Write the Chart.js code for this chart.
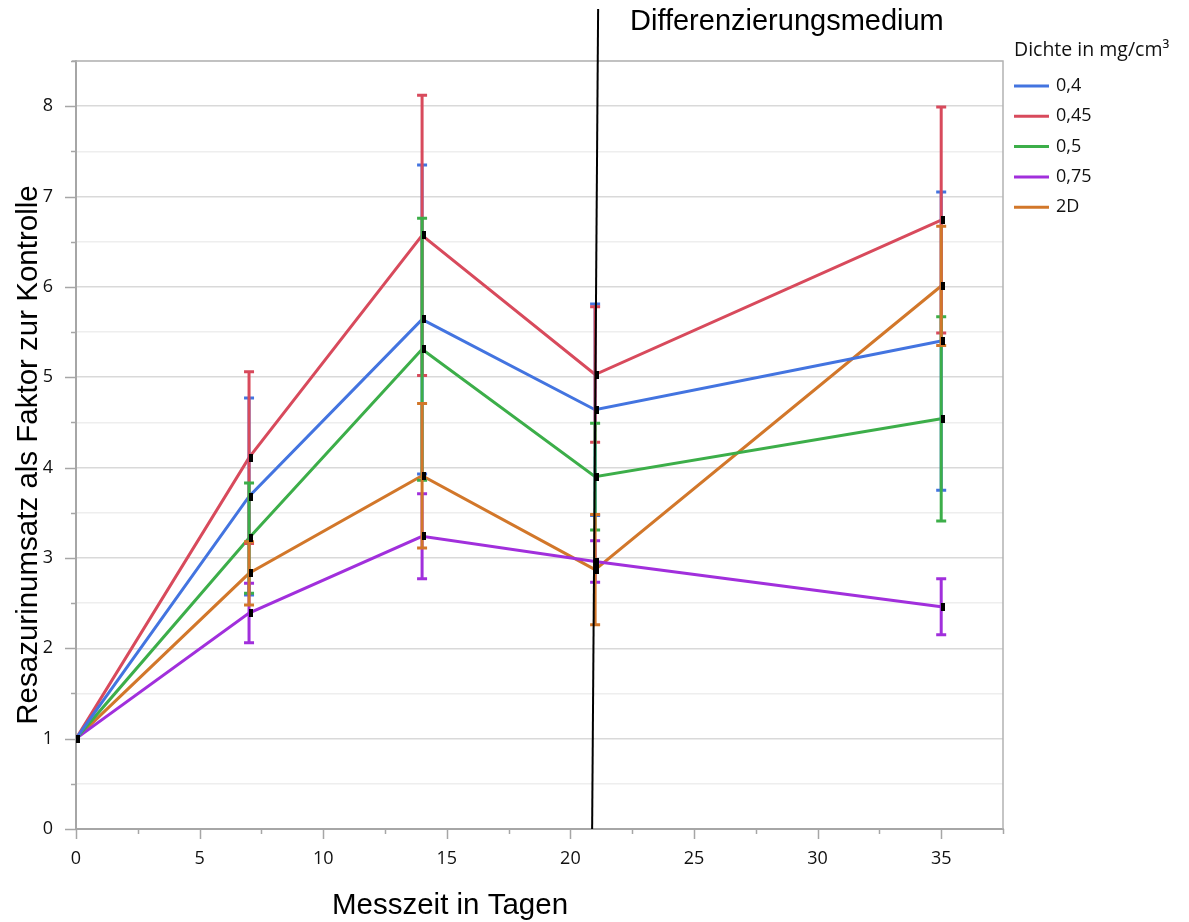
<!DOCTYPE html>
<html>
<head>
<meta charset="utf-8">
<script src="https://cdn.jsdelivr.net/npm/chart.js@4.4.1/dist/chart.umd.min.js"></script>
<style>
  html, body { margin: 0; padding: 0; background: #fff; }
  #wrap { width: 1189px; height: 922px; position: relative; }
</style>
</head>
<body>
<div id="wrap"><canvas id="resazurin-chart"></canvas></div>
<script>
// measurement days
const days = [0, 7, 14, 21, 35];

// density labels for the legend
const densities = ['0,4', '0,45', '0,5', '0,75', '2D'];

// mean resazurin turnover relative to control, one list per density
const val04  = [1, 3.68, 5.64, 4.64, 5.40];
const val045 = [1, 4.11, 6.57, 5.03, 6.74];
const val05  = [1, 3.22, 5.31, 3.90, 4.54];
const val075 = [1, 2.39, 3.24, 2.96, 2.46];
const val2D  = [1, 2.83, 3.91, 2.87, 6.01];

// standard deviations (symmetric error bars)
const err04  = [0, 1.09, 1.71, 1.17, 1.65];
const err045 = [0, 0.95, 1.55, 0.75, 1.25];
const err05  = [0, 0.61, 1.45, 0.59, 1.13];
const err075 = [0, 0.33, 0.47, 0.23, 0.31];
const err2D  = [0, 0.35, 0.80, 0.61, 0.66];

const lineColors = ['#4374e0', '#d84a5c', '#3cae49', '#a12fdc', '#d2772a'];

const axisGray = '#a6a6a6';
const tickFont = '"Open Sans", "Noto Sans", sans-serif';
const titleFont = '"Liberation Sans", Arial, sans-serif';

const allValues = [val04, val045, val05, val075, val2D];
const allErrors = [err04, err045, err05, err075, err2D];

const datasets = densities.map((label, i) => ({
    label: label,
    data: days.map((d, j) => ({ x: d, y: allValues[i][j] })),
    errors: allErrors[i],
    borderColor: lineColors[i],
    backgroundColor: lineColors[i],
    borderWidth: 3,
    pointRadius: 0,
    tension: 0
}));

// error bars, point markers, tick marks, titles and legend
const decorations = {
    id: 'decorations',
    afterDatasetsDraw(chart) {
        const ctx = chart.ctx;
        const yScale = chart.scales.y;
        ctx.save();
        chart.data.datasets.forEach((ds, i) => {
            const meta = chart.getDatasetMeta(i);
            ctx.strokeStyle = ds.borderColor;
            ctx.lineWidth = 3;
            meta.data.forEach((pt, j) => {
                const e = ds.errors[j];
                if (!e) return;
                const v = ds.data[j].y;
                const yTop = yScale.getPixelForValue(v + e);
                const yBot = yScale.getPixelForValue(v - e);
                ctx.beginPath();
                ctx.moveTo(pt.x, yTop);
                ctx.lineTo(pt.x, yBot);
                ctx.moveTo(pt.x - 5, yTop);
                ctx.lineTo(pt.x + 5, yTop);
                ctx.moveTo(pt.x - 5, yBot);
                ctx.lineTo(pt.x + 5, yBot);
                ctx.stroke();
            });
        });
        // small black markers at every data point
        ctx.fillStyle = '#000';
        chart.data.datasets.forEach((ds, i) => {
            chart.getDatasetMeta(i).data.forEach(pt => {
                ctx.fillRect(Math.round(pt.x), Math.round(pt.y) - 4, 4, 8);
            });
        });
        ctx.restore();
    },
    afterDraw(chart) {
        const ctx = chart.ctx;
        const area = chart.chartArea;
        const xScale = chart.scales.x;
        const yScale = chart.scales.y;
        ctx.save();

        // box border top and right
        ctx.strokeStyle = '#b3b3b3';
        ctx.lineWidth = 1.5;
        ctx.beginPath();
        ctx.moveTo(area.left - 4, area.top);
        ctx.lineTo(area.right, area.top);
        ctx.lineTo(area.right, area.bottom);
        ctx.stroke();

        // tick marks
        ctx.strokeStyle = axisGray;
        ctx.lineWidth = 1.5;
        ctx.beginPath();
        for (let v = 0; v <= 8.5; v += 0.5) {
            const y = Math.round(yScale.getPixelForValue(v)) + 0.5;
            const len = v % 1 === 0 ? 11 : 5;
            ctx.moveTo(area.left - len, y);
            ctx.lineTo(area.left, y);
        }
        for (let v = 0; v <= 37.5; v += 2.5) {
            const x = Math.round(xScale.getPixelForValue(v)) + 0.5;
            const len = v % 5 === 0 ? 10 : 5;
            ctx.moveTo(x, area.bottom);
            ctx.lineTo(x, area.bottom + len);
        }
        ctx.stroke();

        // start of the differentiation medium at day 21
        const x21 = xScale.getPixelForValue(21);
        ctx.strokeStyle = '#000';
        ctx.lineWidth = 2;
        ctx.beginPath();
        ctx.moveTo(x21 + 3, 9);
        ctx.lineTo(x21 - 3, area.bottom);
        ctx.stroke();

        ctx.fillStyle = '#000';
        ctx.font = '29px ' + titleFont;
        ctx.textAlign = 'left';
        ctx.textBaseline = 'middle';
        ctx.fillText('Differenzierungsmedium', 630, 22);

        // axis titles
        ctx.font = '29.5px ' + titleFont;
        ctx.textAlign = 'center';
        ctx.fillText('Messzeit in Tagen', 450, 906);
        ctx.save();
        ctx.translate(29, 455);
        ctx.rotate(-Math.PI / 2);
        ctx.fillText('Resazurinumsatz als Faktor zur Kontrolle', 0, 0);
        ctx.restore();

        // legend
        ctx.textAlign = 'left';
        ctx.fillStyle = '#111';
        ctx.font = '19.5px ' + tickFont;
        ctx.fillText('Dichte in mg/cm³', 1014, 50);
        ctx.font = '18px ' + tickFont;
        chart.data.datasets.forEach((ds, i) => {
            const y = 86 + i * 30.3;
            ctx.strokeStyle = ds.borderColor;
            ctx.lineWidth = 3;
            ctx.beginPath();
            ctx.moveTo(1014, y);
            ctx.lineTo(1049, y);
            ctx.stroke();
            ctx.fillText(ds.label, 1056, y);
        });
        ctx.restore();
    }
};

const ctx = document.getElementById('resazurin-chart').getContext('2d');
const myChart = new Chart(ctx, {
    type: 'line',
    data: { datasets: datasets },
    options: {
        responsive: true,
        maintainAspectRatio: false,
        animation: false,
        layout: { padding: { top: 61, right: 186, left: 0, bottom: 0 } },
        plugins: {
            legend: { display: false },
            tooltip: { enabled: false }
        },
        scales: {
            x: {
                type: 'linear',
                min: 0,
                max: 37.5,
                afterFit: scale => { scale.height = 93; },
                border: { color: axisGray, width: 2 },
                grid: { display: false, drawTicks: false },
                ticks: {
                    stepSize: 2.5,
                    padding: 19,
                    color: '#111',
                    font: { family: tickFont, size: 18 },
                    maxRotation: 0,
                    autoSkip: false,
                    callback: v => (v % 5 === 0 ? String(v) : '')
                }
            },
            y: {
                min: 0,
                max: 8.5,
                afterFit: scale => { scale.width = 76; },
                border: { color: axisGray, width: 2 },
                grid: {
                    drawTicks: false,
                    lineWidth: 1.5,
                    color: c => (c.tick.value % 1 === 0 ? '#d9d9d9' : '#eeeeee')
                },
                ticks: {
                    stepSize: 0.5,
                    padding: 23,
                    color: '#111',
                    font: { family: tickFont, size: 18 },
                    autoSkip: false,
                    callback: v => (v % 1 === 0 ? String(v) : '')
                }
            }
        }
    },
    plugins: [decorations]
});
</script>
</body>
</html>
